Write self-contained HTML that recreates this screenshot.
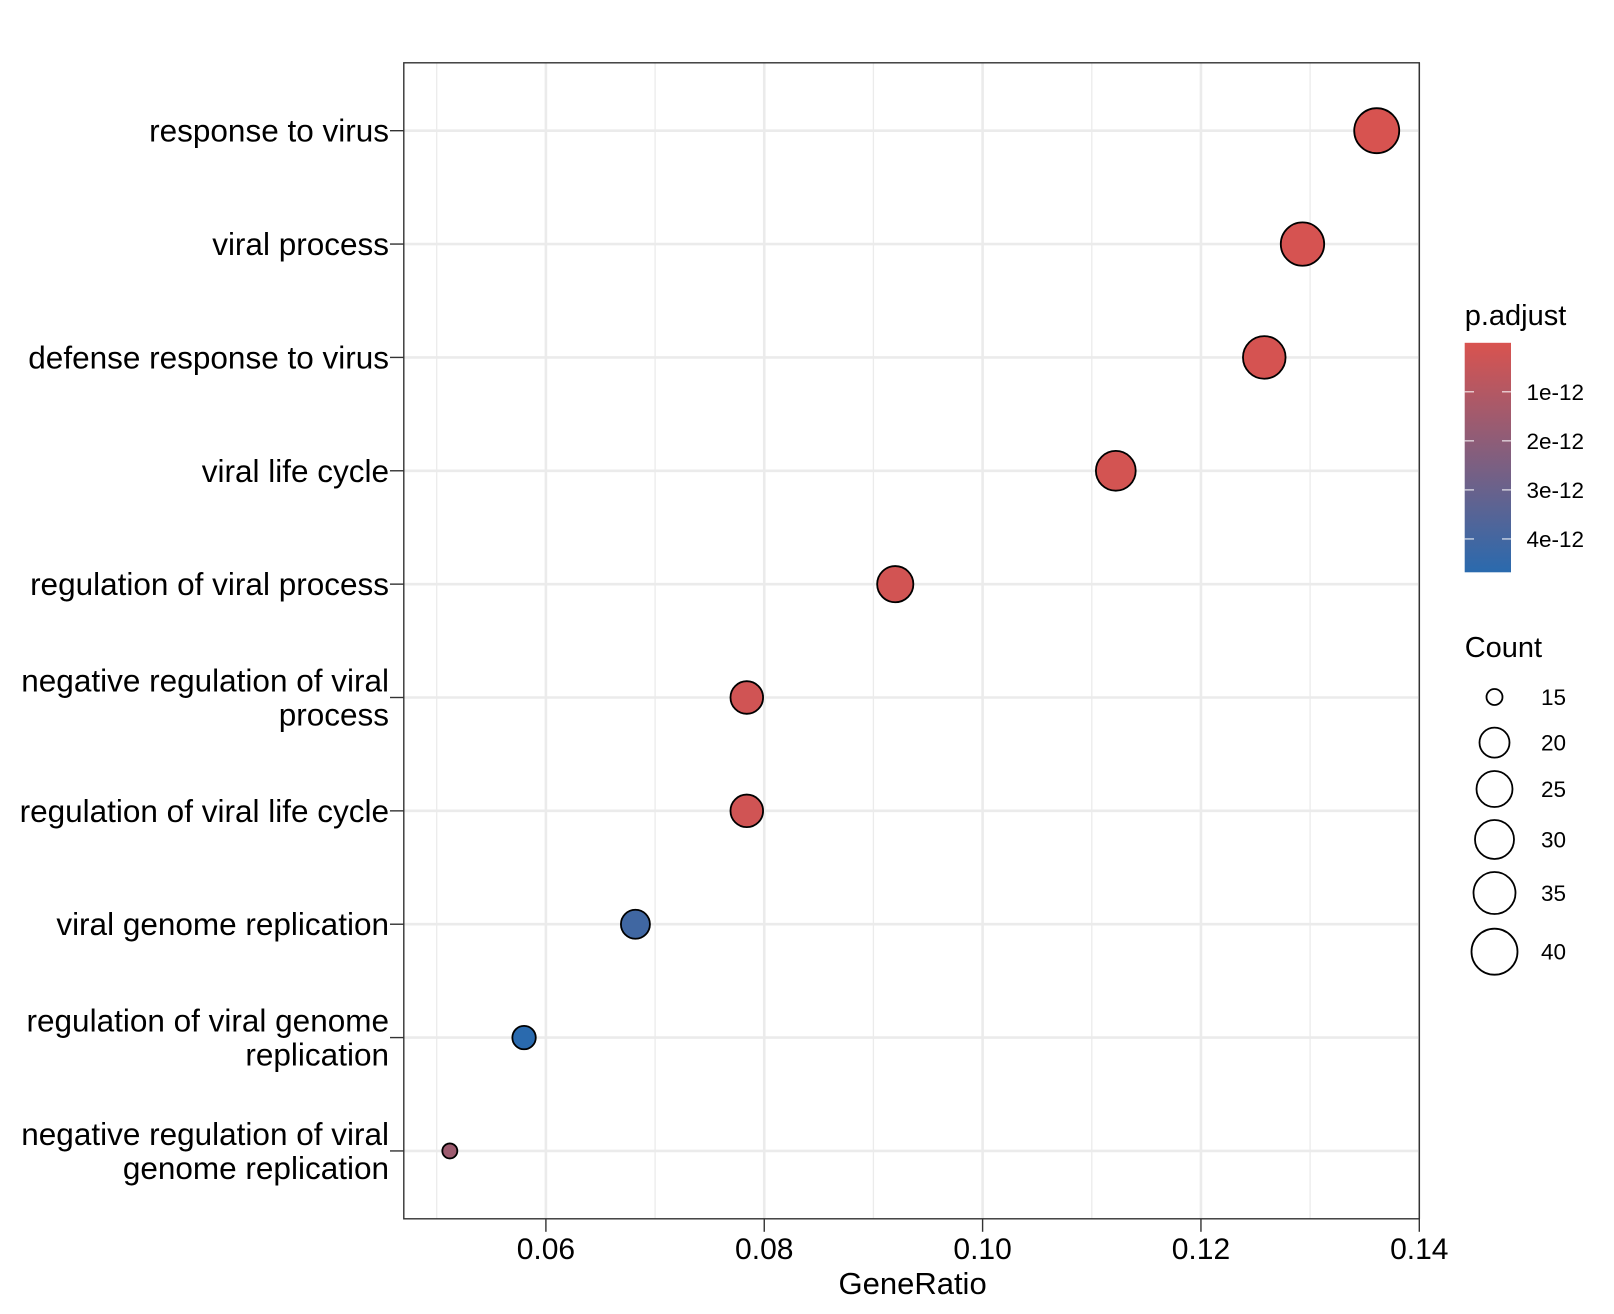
<!DOCTYPE html>
<html><head><meta charset="utf-8"><style>
html,body{margin:0;padding:0;background:#fff;}
svg{display:block;font-family:"Liberation Sans",Arial,sans-serif;}
</style></head><body>
<svg id="chart" width="1614" height="1314" viewBox="0 0 1614 1314" xmlns="http://www.w3.org/2000/svg">
<defs>
<linearGradient id="pgrad" x1="0" y1="0" x2="0" y2="1">
<stop offset="0" stop-color="#d9534f"/><stop offset="1" stop-color="#2a6aae"/>
</linearGradient>
</defs>
<rect x="0" y="0" width="1614" height="1314" fill="#fff"/>
<g id="grid"></g>
<g id="points"></g>
<rect x="403.8" y="62.8" width="1015.5" height="1156" fill="none" stroke="#333" stroke-width="1.4"/>
<g id="yaxis"></g>
<g id="xaxis"></g>
<text x="912.6" y="1294" font-size="31" text-anchor="middle" fill="#000">GeneRatio</text>
<g>
<text x="1464.7" y="325" font-size="29" fill="#000">p.adjust</text>
<rect x="1464.7" y="342.8" width="46.3" height="229.5" fill="url(#pgrad)"/>
<g id="cbticks"></g>
</g>
<g>
<text x="1464.7" y="657" font-size="29" fill="#000">Count</text>
<g id="sizeleg"></g>
</g>
</svg>
<script>
const categories = ["response to virus","viral process","defense response to virus","viral life cycle","regulation of viral process","negative regulation of viral|process","regulation of viral life cycle","viral genome replication","regulation of viral genome|replication","negative regulation of viral|genome replication"];
const geneRatio = [0.1361,0.1293,0.1258,0.1122,0.0920,0.0784,0.0784,0.0682,0.0580,0.0512];
const counts = [40,38,37,33,27,23,23,20,18,15];
const pAdjust = [0.05e-12,0.08e-12,0.1e-12,0.15e-12,0.2e-12,0.25e-12,0.25e-12,4.1e-12,4.67e-12,1.6e-12];
const xTicks = [0.06,0.08,0.10,0.12,0.14];
const xTickLabels = ["0.06","0.08","0.10","0.12","0.14"];
const xMinor = [0.05,0.07,0.09,0.11,0.13];
const pBreaks = [1e-12,2e-12,3e-12,4e-12];
const pBreakLabels = ["1e-12","2e-12","3e-12","4e-12"];
const sizeBreaks = [15,20,25,30,35,40];
const sizeRadii = [9,16,19,20.5,22,24];

const NS="http://www.w3.org/2000/svg";
function mk(t,a,p){const e=document.createElementNS(NS,t);for(const k in a)e.setAttribute(k,a[k]);p.appendChild(e);return e;}
const PL=403.8, PR=1419.3, PT=62.8, PB=1218.8;
const xScale=v=>545.9+(v-0.06)*10917.5;
const yScale=i=>130.7+i*113.36;
const pMax=4.68e-12, cbTop=342.8, cbH=229.5;
const pToY=p=>cbTop+(p/pMax)*cbH;
function rOf(c){
  if(c<=sizeBreaks[0])return sizeRadii[0];
  for(let i=1;i<sizeBreaks.length;i++){if(c<=sizeBreaks[i]){const t=(c-sizeBreaks[i-1])/(sizeBreaks[i]-sizeBreaks[i-1]);return sizeRadii[i-1]+t*(sizeRadii[i]-sizeRadii[i-1]);}}
  return sizeRadii[sizeRadii.length-1];
}
function colOf(p){
  const t=Math.max(0,Math.min(1,p/pMax));
  const a=[217,83,79],b=[42,106,174];
  return "rgb("+a.map((v,i)=>Math.round(v+(b[i]-v)*t)).join(",")+")";
}
const grid=document.getElementById('grid');
xMinor.forEach(v=>{const l=mk('line',{x1:xScale(v),x2:xScale(v),y1:PT,y2:PB,stroke:'#ebebeb','stroke-width':1.3},grid);

});
xTicks.forEach(v=>{const l=mk('line',{x1:xScale(v),x2:xScale(v),y1:PT,y2:PB,stroke:'#ebebeb','stroke-width':2.6},grid);

});
categories.forEach((c,i)=>{const l=mk('line',{x1:PL,x2:PR,y1:yScale(i),y2:yScale(i),stroke:'#ebebeb','stroke-width':2.6},grid);

});
const pts=document.getElementById('points');
categories.forEach((c,i)=>{const e=mk('circle',{cx:xScale(geneRatio[i]),cy:yScale(i),r:rOf(counts[i])-1.5,fill:colOf(pAdjust[i]),stroke:'#000','stroke-width':1.8},pts);

});
const ya=document.getElementById('yaxis');
categories.forEach((c,i)=>{const y=yScale(i);
const tk=mk('line',{x1:390,x2:PL,y1:y,y2:y,stroke:'#333','stroke-width':1.4},ya);


const lines=c.split('|');
lines.forEach((s,j)=>{const yy=y+11+(j-(lines.length-1)/2)*34;
const t=mk('text',{x:389,y:yy,'font-size':31.5,'text-anchor':'end',fill:'#000'},ya);t.textContent=s;

});});
const xa=document.getElementById('xaxis');
xTicks.forEach((v,i)=>{const x=xScale(v);
const tk=mk('line',{x1:x,x2:x,y1:PB,y2:PB+13,stroke:'#333','stroke-width':1.4},xa);


const t=mk('text',{x:x,y:1259,'font-size':30,'text-anchor':'middle',fill:'#000'},xa);t.textContent=xTickLabels[i];

});
const cb=document.getElementById('cbticks');
pBreaks.forEach((p,i)=>{const y=pToY(p);
mk('line',{x1:1464.7,x2:1474,y1:y,y2:y,stroke:'#fff','stroke-width':1},cb);
mk('line',{x1:1502,x2:1511,y1:y,y2:y,stroke:'#fff','stroke-width':1},cb);
const t=mk('text',{x:1526.5,y:y+8,'font-size':22.5,fill:'#000'},cb);t.textContent=pBreakLabels[i];

});
const sl=document.getElementById('sizeleg');
const sy=[697,742.6,789,839.5,893,951.7];
sizeBreaks.forEach((c,i)=>{const e=mk('circle',{cx:1494.5,cy:sy[i],r:rOf(c)-1,fill:'none',stroke:'#000','stroke-width':1.8},sl);


const t=mk('text',{x:1541,y:sy[i]+8,'font-size':22.5,fill:'#000'},sl);t.textContent=String(c);

});
</script>
</body></html>
